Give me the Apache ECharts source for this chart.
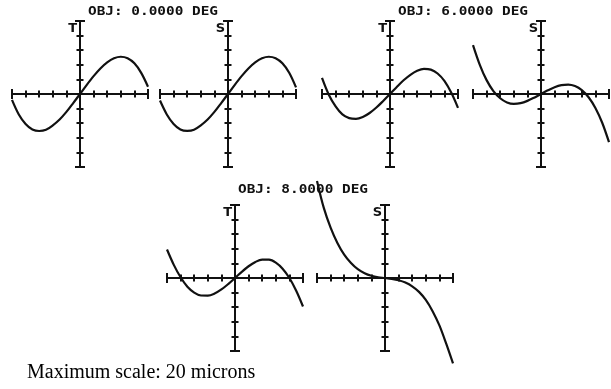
<!DOCTYPE html>
<html>
<head>
<meta charset="utf-8">
<script src="https://cdn.jsdelivr.net/npm/echarts@6/dist/echarts.min.js"></script>
<style>
  html, body { margin: 0; padding: 0; background: #fff; }
  #chart { width: 611px; height: 389px; }
</style>
</head>
<body>
<div id="chart"></div>
<script>
// Relative pupil coordinate sampled along each fan
const PUPIL = [-1, -0.9, -0.8, -0.7, -0.6, -0.5, -0.4, -0.3, -0.2, -0.1, 0,
               0.1, 0.2, 0.3, 0.4, 0.5, 0.6, 0.7, 0.8, 0.9, 1];

// Ray aberration, as a fraction of the maximum scale (20 microns)
const T_0 = [-0.08, -0.28, -0.41, -0.485, -0.507, -0.49, -0.43, -0.35, -0.245, -0.125, 0,
             0.126, 0.245, 0.35, 0.433, 0.489, 0.51, 0.49, 0.42, 0.29, 0.10];
const S_0 = [-0.09, -0.28, -0.41, -0.485, -0.505, -0.49, -0.43, -0.35, -0.245, -0.125, 0,
             0.126, 0.245, 0.35, 0.433, 0.489, 0.51, 0.49, 0.42, 0.29, 0.09];
const T_6 = [0.22, -0.01, -0.17, -0.28, -0.33, -0.34, -0.315, -0.26, -0.185, -0.095, 0,
             0.097, 0.188, 0.263, 0.318, 0.344, 0.334, 0.281, 0.179, 0.019, -0.19];
const S_6 = [0.67, 0.40, 0.19, 0.04, -0.058, -0.115, -0.135, -0.125, -0.094, -0.05, 0,
             0.05, 0.093, 0.121, 0.129, 0.109, 0.053, -0.044, -0.191, -0.394, -0.66];
const T_8 = [0.39, 0.18, 0.01, -0.12, -0.20, -0.24, -0.242, -0.213, -0.157, -0.083, 0,
             0.085, 0.161, 0.22, 0.252, 0.251, 0.211, 0.128, 0, -0.174, -0.39];
const S_8 = [1.33, 0.96, 0.69, 0.48, 0.32, 0.205, 0.12, 0.065, 0.03, 0.01, 0,
             -0.012, -0.031, -0.063, -0.114, -0.19, -0.30, -0.454, -0.65, -0.90, -1.17];

const FIELD_TITLES = ['OBJ: 0.0000 DEG', 'OBJ: 6.0000 DEG', 'OBJ: 8.0000 DEG'];

// Panel layout: [left, top] of each fan box, plus the fan data
const PANEL_W = 136, PANEL_H = 146;
const panels = [
  { left: 12,  top: 21,  name: 'T', data: T_0 },
  { left: 160, top: 21,  name: 'S', data: S_0 },
  { left: 322, top: 21,  name: 'T', data: T_6 },
  { left: 473, top: 21,  name: 'S', data: S_6 },
  { left: 167, top: 205, name: 'T', data: T_8 },
  { left: 317, top: 205, name: 'S', data: S_8 }
];
const titlePos = [[153, 12], [463, 12], [303, 190]];

const AX_MIN = -1, AX_MAX = 1, AX_STEP = 0.2;
const INK = '#111';

const grid = [], xAxis = [], yAxis = [], series = [];

panels.forEach((p, i) => {
  grid.push({ left: p.left, top: p.top, width: PANEL_W, height: PANEL_H });
  const common = {
    gridIndex: i, type: 'value', min: AX_MIN, max: AX_MAX, interval: AX_STEP,
    axisLabel: { show: false, interval: 0 },
    splitLine: { show: false }
  };
  const tickStyle = { show: true, interval: 0, length: 3.5, lineStyle: { color: INK, width: 2 } };
  const lineStyle = { color: INK, width: 2 };
  // two axes per direction so the ticks cross the axis line
  xAxis.push(Object.assign({}, common, {
    position: 'bottom',
    axisLine: { onZero: true, lineStyle, symbol: 'rect', symbolSize: [10, 2] },
    axisTick: tickStyle
  }));
  xAxis.push(Object.assign({}, common, {
    position: 'top',
    axisLine: { onZero: true, lineStyle },
    axisTick: tickStyle
  }));
  yAxis.push(Object.assign({}, common, {
    position: 'left',
    name: p.name,
    nameLocation: 'end',
    nameGap: -8,
    nameTextStyle: {
      color: INK, fontFamily: 'DejaVu Sans', fontWeight: 'bold', fontSize: 13,
      align: 'right', verticalAlign: 'middle', padding: [0, 3, 0, 0]
    },
    axisLine: { onZero: true, lineStyle, symbol: 'rect', symbolSize: [10, 2] },
    axisTick: tickStyle
  }));
  yAxis.push(Object.assign({}, common, {
    position: 'right',
    axisLine: { onZero: true, lineStyle },
    axisTick: tickStyle
  }));
  series.push({
    type: 'line',
    xAxisIndex: i * 2,
    yAxisIndex: i * 2,
    data: PUPIL.map((x, k) => [x, p.data[k]]),
    smooth: 0.33,
    symbol: 'none',
    clip: false,
    lineStyle: { color: INK, width: 2.2 },
    z: 3
  });
});

const graphic = FIELD_TITLES.map((t, i) => ({
  type: 'text',
  x: titlePos[i][0],
  y: titlePos[i][1],
  scaleX: 1.2,
  style: {
    text: t,
    font: 'bold 12px "DejaVu Sans Mono"',
    fill: INK,
    textAlign: 'center',
    textVerticalAlign: 'middle'
  }
}));
graphic.push({
  type: 'text',
  x: 27,
  y: 373,
  style: {
    text: 'Maximum scale: 20 microns',
    font: '20px "Liberation Serif"',
    fill: '#000',
    textAlign: 'left',
    textVerticalAlign: 'middle'
  }
});

const chart = echarts.init(document.getElementById('chart'), null, { renderer: 'canvas' });
chart.setOption({
  animation: false,
  backgroundColor: '#fff',
  grid, xAxis, yAxis, series, graphic
});
</script>
</body>
</html>
